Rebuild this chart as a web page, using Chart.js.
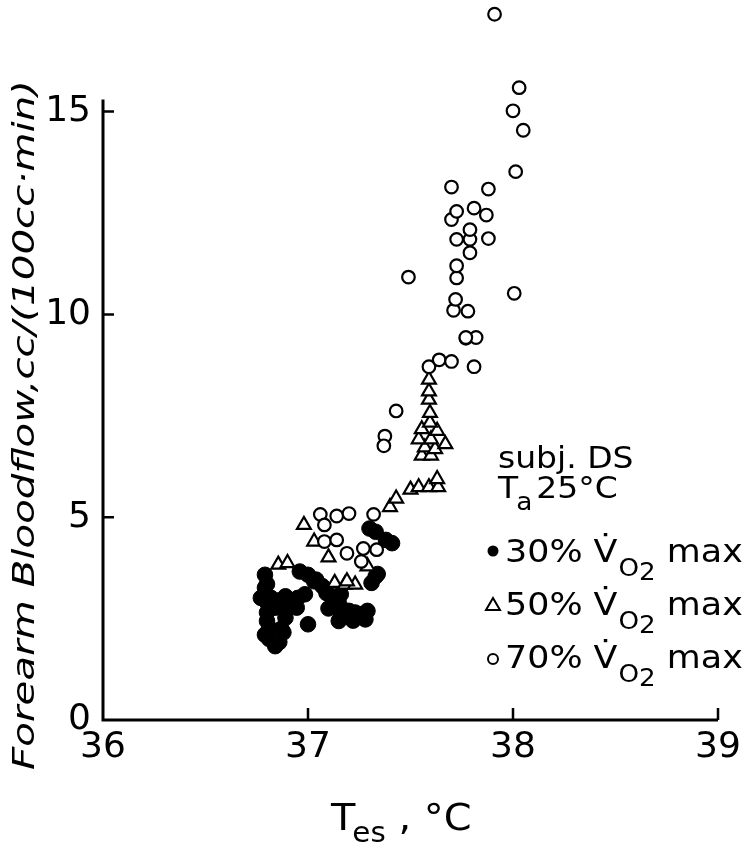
<!DOCTYPE html>
<html>
<head>
<meta charset="utf-8">
<title>Forearm bloodflow vs Tes</title>
<script src="https://cdn.jsdelivr.net/npm/chart.js@4.4.0/dist/chart.umd.min.js"></script>
<style>
  html, body { margin: 0; padding: 0; background: #fff; }
  #wrap { width: 750px; height: 848px; }
</style>
</head>
<body>
<div id="wrap"><canvas id="flowChart" width="750" height="848"></canvas></div>
<script>
// tick values
const xTicks = [36, 37, 38, 39];
const yTicks = [0, 5, 10, 15];

// 30% VO2 max (filled dots)
const tes30  = [36.79, 36.79, 36.77, 36.82, 36.89, 36.95, 36.985, 36.84, 36.90, 36.945,
                36.80, 36.81, 36.88, 36.81, 36.84, 37.00, 36.89, 36.96, 37.00, 37.04,
                37.07, 37.09, 37.12, 37.15, 37.16, 37.20, 37.23, 37.26, 37.29, 37.28,
                37.15, 37.12, 37.31, 37.33, 37.16, 37.33, 37.30, 37.38, 37.41, 36.80,
                36.86, 36.80, 36.80, 36.79, 36.86, 36.87, 36.93, 37.03, 37.18, 37.22,
                37.24, 37.34, 37.10];
const flow30 = [3.58, 3.26, 3.01, 3.01, 3.05, 3.01, 3.10, 2.77, 2.85, 2.77,
                2.44, 2.28, 2.16, 2.00, 1.82, 2.36, 2.52, 3.66, 3.58, 3.46,
                3.30, 3.13, 3.05, 2.89, 2.65, 2.69, 2.65, 2.61, 2.69, 2.48,
                2.44, 2.85, 3.38, 3.54, 3.10, 4.64, 4.72, 4.44, 4.36, 2.90,
                2.95, 3.35, 2.65, 2.10, 1.92, 2.25, 2.95, 3.42, 2.70, 2.45,
                2.60, 3.60, 2.75];

// 50% VO2 max (open triangles)
const tes50  = [36.855, 36.90, 36.98, 37.03, 37.10, 37.13, 37.18, 37.23, 37.19, 37.29,
                37.40, 37.43, 37.50, 37.54, 37.59, 37.635, 37.63, 37.555, 37.60, 37.57,
                37.62, 37.54, 37.60, 37.67, 37.555, 37.63, 37.595, 37.595, 37.59, 37.59, 37.59];
const flow50 = [3.83, 3.87, 4.81, 4.40, 4.01, 3.38, 3.34, 3.34, 3.42, 3.79,
                5.25, 5.46, 5.68, 5.74, 5.74, 5.74, 5.94, 6.52, 6.52, 6.72,
                6.68, 6.92, 6.92, 6.80, 7.17, 7.13, 7.33, 7.57, 7.90, 8.10, 8.39];

// 70% VO2 max (open circles)
const tes70  = [37.06, 37.14, 37.20, 37.08, 37.32, 37.08, 37.14, 37.19, 37.27, 37.335,
                37.26, 37.375, 37.37, 37.43, 37.59, 37.64, 37.70, 37.81, 37.77, 37.82,
                37.77, 37.78, 37.71, 37.72, 37.725, 37.725, 37.49, 38.006, 37.79, 37.725,
                37.79, 37.88, 37.79, 37.87, 37.81, 37.70, 37.725, 37.88, 37.70, 38.013,
                38.05, 38.00, 38.03, 37.91];
const flow70 = [5.07, 5.03, 5.09, 4.81, 5.07, 4.40, 4.44, 4.11, 4.23, 4.20,
                3.91, 7.00, 6.76, 7.62, 8.71, 8.88, 8.84, 8.71, 9.41, 9.43,
                9.43, 10.08, 10.10, 10.37, 10.90, 11.20, 10.92, 10.52, 11.52, 11.85,
                11.85, 11.87, 12.09, 12.45, 12.62, 12.34, 12.54, 13.09, 13.14, 13.52,
                14.54, 15.02, 15.59, 17.40];

const yTitle = 'Forearm Bloodflow,cc/(100cc\u00b7min)';
const FONT = '"DejaVu Sans", sans-serif';

function toPoints(xs, ys) {
    return xs.map(function(x, i) { return { x: x, y: ys[i] }; });
}

// draws text pieces one after another, some of them lowered as subscripts,
// stretched a little sideways like the lettering of the original
function drawRun(ctx, x, y, parts, stretch) {
    const k = stretch || 1;
    parts.forEach(function(p) {
        ctx.font = (p.size || 30) + 'px ' + FONT;
        ctx.save();
        ctx.translate(x, y + (p.dy || 0));
        ctx.scale(k, 1);
        ctx.fillText(p.t, 0, 0);
        ctx.restore();
        x += ctx.measureText(p.t).width * k + (p.gap || 0);
    });
    return x;
}

const paperAxes = {
    id: 'paperAxes',
    afterDraw(chart) {
        const ctx = chart.ctx;
        const xs = chart.scales.x, ys = chart.scales.y;
        const x0 = xs.getPixelForValue(36), y0 = ys.getPixelForValue(0);
        ctx.save();
        ctx.strokeStyle = '#000';
        ctx.fillStyle = '#000';
        ctx.lineWidth = 3;

        // axis lines, y axis stops just above 15
        ctx.beginPath();
        ctx.moveTo(x0, ys.getPixelForValue(15.3));
        ctx.lineTo(x0, y0);
        ctx.lineTo(xs.getPixelForValue(39), y0);
        ctx.stroke();

        // inward ticks
        ctx.lineWidth = 2.5;
        ctx.beginPath();
        xTicks.slice(1).forEach(function(v) {
            const px = xs.getPixelForValue(v);
            ctx.moveTo(px, y0);
            ctx.lineTo(px, y0 - 12);
        });
        yTicks.slice(1).forEach(function(v) {
            const py = ys.getPixelForValue(v);
            ctx.moveTo(x0, py);
            ctx.lineTo(x0 + 11, py);
        });
        ctx.stroke();

        // y title, stretched to the long lettering of the original
        ctx.save();
        ctx.translate(26, 425);
        ctx.rotate(-Math.PI / 2);
        ctx.font = 'italic 30px ' + FONT;
        const w = ctx.measureText(yTitle).width;
        ctx.scale(690 / w, 1);
        ctx.textAlign = 'center';
        ctx.textBaseline = 'middle';
        ctx.fillText(yTitle, 0, 0);
        ctx.restore();

        // x title
        ctx.textBaseline = 'alphabetic';
        ctx.textAlign = 'left';
        drawRun(ctx, 331, 830, [
            { t: 'T', size: 38, gap: -3 },
            { t: 'es', size: 28, dy: 12 },
            { t: ' , \u00b0C', size: 38 }
        ], 1.05);

        // annotation block
        drawRun(ctx, 498, 468, [{ t: 'subj. DS', size: 30 }], 1.1);
        drawRun(ctx, 498, 498, [
            { t: 'T', size: 30, gap: -2 },
            { t: 'a', size: 24, dy: 12, gap: 4 },
            { t: '25\u00b0C', size: 30 }
        ], 1.1);
        const rows = [
            { lab: '30% ', base: 562 },
            { lab: '50% ', base: 615 },
            { lab: '70% ', base: 668 }
        ];
        rows.forEach(function(r) {
            drawRun(ctx, 505, r.base, [
                { t: r.lab, size: 32 },
                { t: 'V\u0307', size: 32, gap: 1 },
                { t: 'O', size: 24, dy: 14 },
                { t: '2', size: 24, dy: 18 },
                { t: ' max', size: 32 }
            ], 1.09);
        });

        // legend markers
        ctx.lineWidth = 2;
        ctx.beginPath();
        ctx.arc(493, 551, 5.5, 0, Math.PI * 2);
        ctx.fill();
        ctx.beginPath();
        ctx.moveTo(493, 598);
        ctx.lineTo(500, 610);
        ctx.lineTo(486, 610);
        ctx.closePath();
        ctx.stroke();
        ctx.beginPath();
        ctx.arc(493, 659, 5, 0, Math.PI * 2);
        ctx.stroke();
        ctx.restore();
    }
};

const data = {
    datasets: [{
        label: '30% VO2 max',
        data: toPoints(tes30, flow30),
        pointStyle: 'circle',
        pointRadius: 7.8,
        backgroundColor: '#000',
        borderColor: '#000',
        borderWidth: 1,
        order: 3
    }, {
        label: '50% VO2 max',
        data: toPoints(tes50, flow50),
        pointStyle: 'triangle',
        pointRadius: 8,
        backgroundColor: '#fff',
        borderColor: '#000',
        borderWidth: 2.2,
        order: 2
    }, {
        label: '70% VO2 max',
        data: toPoints(tes70, flow70),
        pointStyle: 'circle',
        pointRadius: 6.3,
        backgroundColor: '#fff',
        borderColor: '#000',
        borderWidth: 2.2,
        order: 1
    }]
};

const config = {
    type: 'scatter',
    data,
    options: {
        responsive: false,
        animation: false,
        clip: false,
        layout: { padding: { top: 4, right: 32, left: 0, bottom: 0 } },
        plugins: {
            legend: { display: false },
            tooltip: { enabled: false }
        },
        scales: {
            x: {
                type: 'linear',
                min: 36,
                max: 39,
                grid: { display: false, drawTicks: false },
                border: { display: false },
                ticks: {
                    color: '#000',
                    font: { family: FONT, size: 36 },
                    padding: 6,
                    maxRotation: 0,
                    autoSkip: false
                },
                afterBuildTicks: function(s) {
                    s.ticks = xTicks.map(function(v) { return { value: v }; });
                },
                afterFit: function(s) {
                    s.height = 128;
                    s.paddingLeft = 0;
                    s.paddingRight = 0;
                }
            },
            y: {
                type: 'linear',
                min: 0,
                max: 17.5,
                grid: { display: false, drawTicks: false },
                border: { display: false },
                ticks: {
                    color: '#000',
                    font: { family: FONT, size: 36 },
                    padding: 12
                },
                afterBuildTicks: function(s) {
                    s.ticks = yTicks.map(function(v) { return { value: v }; });
                },
                afterFit: function(s) {
                    s.width = 103;
                    s.paddingTop = 0;
                    s.paddingBottom = 0;
                }
            }
        }
    },
    plugins: [paperAxes]
};

const flowChart = new Chart(document.getElementById('flowChart'), config);
</script>
</body>
</html>
